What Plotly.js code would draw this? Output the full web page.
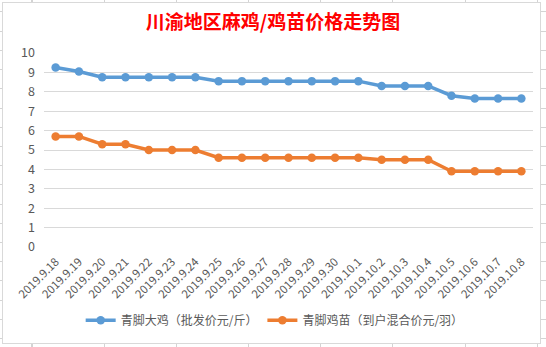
<!DOCTYPE html>
<html>
<head>
<meta charset="utf-8">
<script src="https://cdn.plot.ly/plotly-3.0.1.min.js"></script>
<style>
  html, body { margin: 0; padding: 0; width: 546px; height: 347px; overflow: hidden; background: #ffffff; }
  #bg { position: absolute; left: 0; top: 0; width: 546px; height: 347px;
        background-image:
          repeating-linear-gradient(to right, transparent 0px, transparent 31.5px, #d4d4d4 31.5px, #d4d4d4 32.5px, transparent 32.5px, transparent 72.2px),
          repeating-linear-gradient(to bottom, transparent 0px, transparent 11.5px, #d4d4d4 11.5px, #d4d4d4 12.5px, transparent 12.5px, transparent 19.2px);
  }
  #box { position: absolute; left: 2px; top: 2px; width: 537px; height: 340px; background: #ffffff; border: 1px solid #d9d9d9; }
  #chart { position: absolute; left: 0; top: 0; width: 546px; height: 347px; }
</style>
</head>
<body>
<div id="bg"></div>
<div id="box"></div>
<div id="chart"></div>
<script>
const dates = ["2019.9.18","2019.9.19","2019.9.20","2019.9.21","2019.9.22","2019.9.23","2019.9.24","2019.9.25","2019.9.26","2019.9.27","2019.9.28","2019.9.29","2019.9.30","2019.10.1","2019.10.2","2019.10.3","2019.10.4","2019.10.5","2019.10.6","2019.10.7","2019.10.8"];
const bigChicken = [9.25,9.05,8.75,8.75,8.75,8.75,8.75,8.55,8.55,8.55,8.55,8.55,8.55,8.55,8.3,8.3,8.3,7.8,7.65,7.65,7.65];
const chicks = [5.7,5.7,5.3,5.3,5.0,5.0,5.0,4.6,4.6,4.6,4.6,4.6,4.6,4.6,4.5,4.5,4.5,3.9,3.9,3.9,3.9];
const seriesNames = ["青脚大鸡（批发价元/斤）","青脚鸡苗（到户混合价元/羽）"];
const titleText = "川渝地区麻鸡/鸡苗价格走势图";
const yTicks = [0,1,2,3,4,5,6,7,8,9,10];

const font = "Noto Sans CJK SC, Noto Sans, sans-serif";
const traces = [
  {x: dates, y: bigChicken, name: seriesNames[0], type: "scatter", mode: "lines+markers",
   line: {color: "#5B9BD5", width: 3.5}, marker: {color: "#5B9BD5", size: 8.5}},
  {x: dates, y: chicks, name: seriesNames[1], type: "scatter", mode: "lines+markers",
   line: {color: "#ED7D31", width: 3.5}, marker: {color: "#ED7D31", size: 8.5}}
];
const layout = {
  width: 546, height: 347,
  paper_bgcolor: "rgba(0,0,0,0)", plot_bgcolor: "rgba(0,0,0,0)",
  margin: {l: 44, r: 13, t: 53, b: 97, pad: 0},
  title: {text: titleText, font: {family: font, size: 19, color: "#FF0000", weight: "bold"},
          x: 0.5, xanchor: "center", y: 0.935, yanchor: "middle"},
  showlegend: true,
  legend: {orientation: "h", x: 0.075, xanchor: "left", y: -0.378, yanchor: "middle",
           font: {family: font, size: 12, color: "#595959"}, bgcolor: "rgba(0,0,0,0)", itemwidth: 30},
  xaxis: {type: "category", range: [-0.5, 20.5], tickangle: -45, showgrid: false, zeroline: false,
          showline: false, ticks: "", ticklabelstandoff: 5, tickfont: {family: font, size: 11.5, color: "#595959"}, automargin: false},
  yaxis: {range: [0, 10], tickvals: yTicks, showgrid: true, gridcolor: "#d9d9d9", gridwidth: 1,
          zeroline: false, showline: false, ticks: "", ticklabelstandoff: 8,
          tickfont: {family: font, size: 12.5, color: "#595959"}, automargin: false}
};
Plotly.newPlot("chart", traces, layout, {displayModeBar: false, staticPlot: true});
</script>
</body>
</html>
